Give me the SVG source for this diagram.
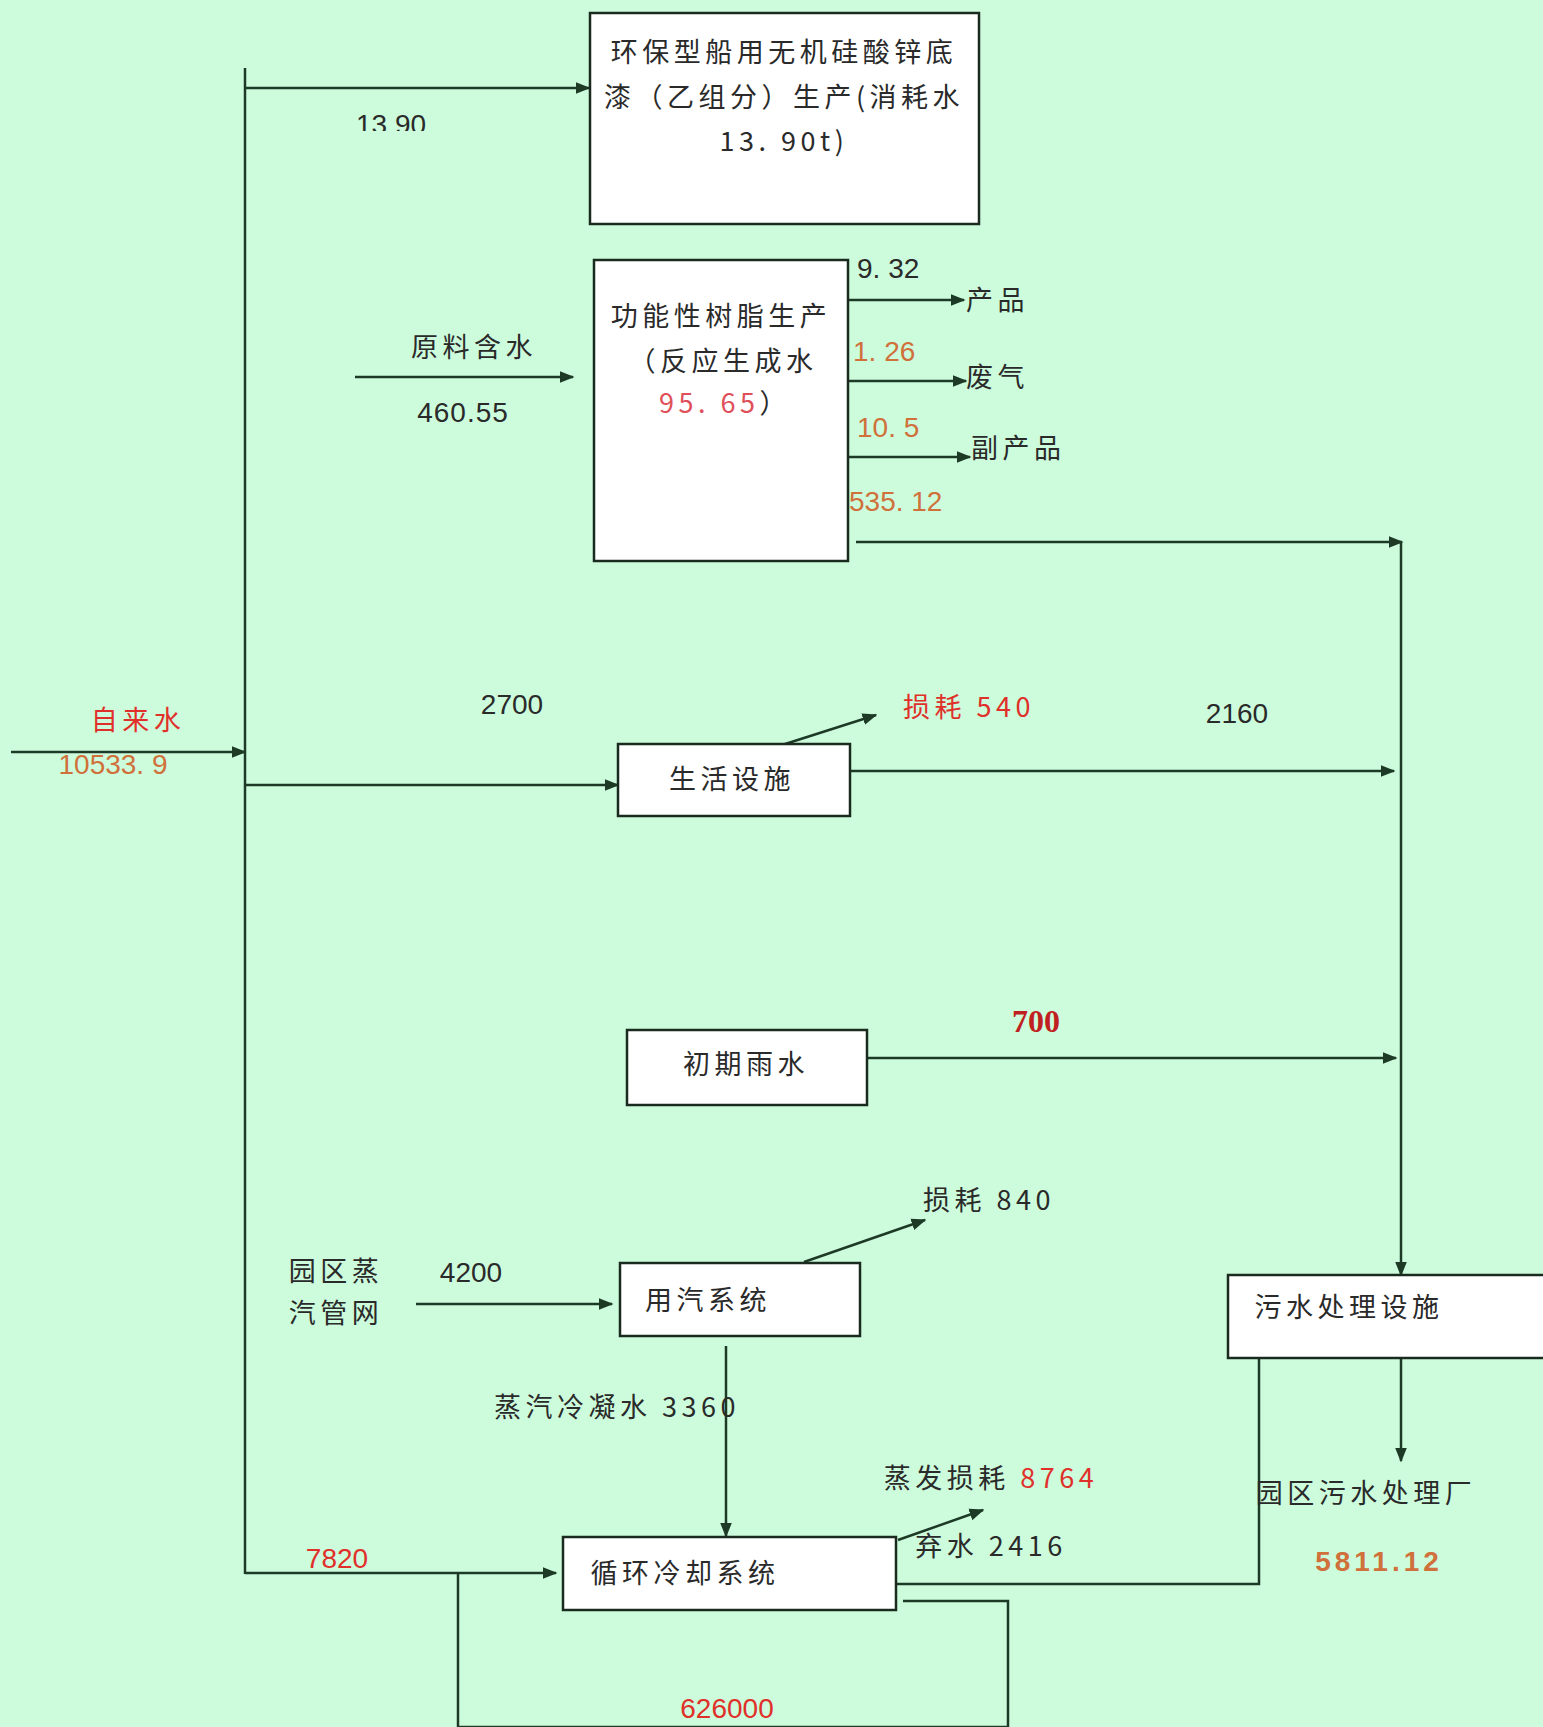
<svg xmlns="http://www.w3.org/2000/svg" width="1543" height="1727" viewBox="0 0 1543 1727">
<style>
.bg{fill:#CDFCDC}
.box{fill:#ffffff;stroke:#1a2a1f;stroke-width:2.5}
.ln{fill:none;stroke:#1d3a27;stroke-width:2.5}
.cn{font-family:"Noto Sans CJK SC","Noto Sans",sans-serif;font-size:27px;fill:#2a2a2a;letter-spacing:4.5px}
.nm{font-family:"Liberation Sans",Arial,sans-serif;font-size:28px;fill:#2a2a2a}
.red{fill:#E0302A}
.org{fill:#D0703A}
.pink{fill:#E0505A}
</style>
<defs>
<marker id="ah" viewBox="0 0 10 10" refX="9" refY="5" markerWidth="6" markerHeight="6" orient="auto" markerUnits="strokeWidth">
<path d="M0,1 L10,5 L0,9 z" fill="#1d3a27"/>
</marker>
<clipPath id="clip1390"><rect x="300" y="100" width="200" height="31"/></clipPath>
</defs>
<rect class="bg" x="0" y="0" width="1543" height="1727"/>

<g id="connectors">
<line class="ln" x1="245" y1="68" x2="245" y2="1574"/>
<line class="ln" x1="245" y1="88" x2="589" y2="88" marker-end="url(#ah)"/>
<line class="ln" x1="355" y1="377" x2="573" y2="377" marker-end="url(#ah)"/>
<line class="ln" x1="848" y1="300" x2="964" y2="300" marker-end="url(#ah)"/>
<line class="ln" x1="848" y1="381" x2="966" y2="381" marker-end="url(#ah)"/>
<line class="ln" x1="848" y1="457" x2="970" y2="457" marker-end="url(#ah)"/>
<line class="ln" x1="856" y1="542" x2="1402" y2="542" marker-end="url(#ah)"/>
<line class="ln" x1="1401" y1="542" x2="1401" y2="1275" marker-end="url(#ah)"/>
<line class="ln" x1="11" y1="752" x2="245" y2="752" marker-end="url(#ah)"/>
<line class="ln" x1="245" y1="785" x2="618" y2="785" marker-end="url(#ah)"/>
<line class="ln" x1="782" y1="745" x2="876" y2="715" marker-end="url(#ah)"/>
<line class="ln" x1="850" y1="771" x2="1394" y2="771" marker-end="url(#ah)"/>
<line class="ln" x1="867" y1="1058" x2="1396" y2="1058" marker-end="url(#ah)"/>
<line class="ln" x1="804" y1="1262" x2="925" y2="1220" marker-end="url(#ah)"/>
<line class="ln" x1="416" y1="1304" x2="612" y2="1304" marker-end="url(#ah)"/>
<line class="ln" x1="726" y1="1346" x2="726" y2="1536" marker-end="url(#ah)"/>
<line class="ln" x1="1401" y1="1358" x2="1401" y2="1461" marker-end="url(#ah)"/>
<line class="ln" x1="245" y1="1573" x2="556" y2="1573" marker-end="url(#ah)"/>
<line class="ln" x1="898" y1="1540" x2="983" y2="1510" marker-end="url(#ah)"/>
<polyline class="ln" points="896,1584 1259,1584 1259,1275" marker-end="url(#ah)"/>
<polyline class="ln" points="903,1601 1008,1601 1008,1727 458,1727 458,1573"/>
</g>

<g id="labels">
<text class="nm" x="391" y="134" text-anchor="middle" font-size="30" clip-path="url(#clip1390)">13.90</text>
<text class="cn" x="474" y="357" text-anchor="middle">原料含水</text>
<text class="nm" x="463" y="422" text-anchor="middle" font-size="36" letter-spacing="1">460.55</text>
<text class="nm" x="857" y="278">9. 32</text>
<text class="cn" x="966" y="310">产品</text>
<text class="nm org" x="853" y="361">1. 26</text>
<text class="cn" x="966" y="387">废气</text>
<text class="nm org" x="857" y="437">10. 5</text>
<text class="cn" x="971" y="458">副产品</text>
<text class="nm org" x="849" y="511">535. 12</text>
<text class="cn red" x="138" y="730" text-anchor="middle">自来水</text>
<text class="nm org" x="113" y="774" text-anchor="middle" font-size="29">10533. 9</text>
<text class="nm" x="512" y="714" text-anchor="middle">2700</text>
<text class="cn red" x="969" y="717" text-anchor="middle">损耗 540</text>
<text class="nm" x="1237" y="723" text-anchor="middle">2160</text>
<text x="1036" y="1032" text-anchor="middle" font-family="Liberation Serif,serif" font-weight="bold" font-size="32" fill="#C02020">700</text>
<text class="cn" x="989" y="1210" text-anchor="middle">损耗 840</text>
<text class="cn" x="336" y="1281" text-anchor="middle">园区蒸</text>
<text class="cn" x="336" y="1323" text-anchor="middle">汽管网</text>
<text class="nm" x="471" y="1282" text-anchor="middle">4200</text>
<text class="cn" x="617" y="1417" text-anchor="middle">蒸汽冷凝水 3360</text>
<text class="cn" x="1366" y="1503" text-anchor="middle" letter-spacing="7">园区污水处理厂</text>
<text class="nm org" x="1379" y="1571" text-anchor="middle" font-weight="bold" font-size="32" letter-spacing="4">5811.12</text>
<text class="nm red" x="337" y="1568" text-anchor="middle" font-size="31">7820</text>
<text class="cn" x="991" y="1488" text-anchor="middle">蒸发损耗 <tspan class="red">8764</tspan></text>
<text class="cn" x="991" y="1556" text-anchor="middle">弃水 2416</text>
<text class="nm red" x="727" y="1718" text-anchor="middle" font-size="31">626000</text>
</g>

<g id="node-zinc">
<rect class="box" x="590" y="13" width="389" height="211"/>
<text class="cn" x="784" y="62" text-anchor="middle" letter-spacing="6">环保型船用无机硅酸锌底</text>
<text class="cn" x="784" y="107" text-anchor="middle" letter-spacing="6">漆（乙组分）生产(消耗水</text>
<text class="cn" x="784" y="151" text-anchor="middle">13. 90t)</text>
</g>

<g id="node-resin">
<rect class="box" x="594" y="260" width="254" height="301"/>
<text class="cn" x="721" y="326" text-anchor="middle">功能性树脂生产</text>
<text class="cn" x="723" y="371" text-anchor="middle">（反应生成水</text>
<text class="cn" x="659" y="413"><tspan class="pink">95. 65</tspan>）</text>
</g>

<g id="node-living">
<rect class="box" x="618" y="744" width="232" height="72"/>
<text class="cn" x="732" y="789" text-anchor="middle">生活设施</text>
</g>

<g id="node-rain">
<rect class="box" x="627" y="1030" width="240" height="75"/>
<text class="cn" x="746" y="1074" text-anchor="middle">初期雨水</text>
</g>

<g id="node-steam">
<rect class="box" x="620" y="1263" width="240" height="73"/>
<text class="cn" x="708" y="1310" text-anchor="middle">用汽系统</text>
</g>

<g id="node-sewage">
<rect class="box" x="1228" y="1275" width="330" height="83"/>
<text class="cn" x="1349" y="1317" text-anchor="middle">污水处理设施</text>
</g>

<g id="node-cooling">
<rect class="box" x="563" y="1537" width="333" height="73"/>
<text class="cn" x="685" y="1583" text-anchor="middle">循环冷却系统</text>
</g>
</svg>
